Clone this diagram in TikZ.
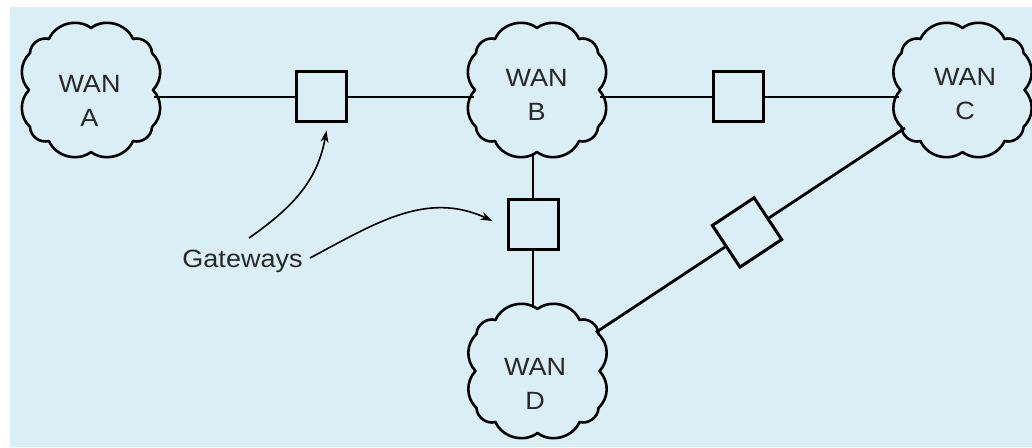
\documentclass[tikz,border=0pt]{standalone}
\usepackage{fontspec}
\newfontfamily\lblfont[FakeStretch=1.08]{Liberation Sans}
\usetikzlibrary{arrows.meta,calc}
\definecolor{bgblue}{RGB}{217,238,245}
\definecolor{txtgray}{RGB}{40,40,40}
\newcommand{\cloudoutline}[1]{%
  \draw[cloudline,shift={(#1.center)}]
    (0,62) to[bend left=52] (42,51) to[bend left=52] (61,37)
    to[bend left=45] (62,0) to[bend left=45] (61,-37)
    to[bend left=52] (42,-51) to[bend left=52] (0,-62)
    to[bend left=52] (-42,-51) to[bend left=52] (-61,-37)
    to[bend left=45] (-62,0) to[bend left=45] (-61,37)
    to[bend left=52] (-42,51) to[bend left=52] (0,62) -- cycle;}
\begin{document}
\begin{tikzpicture}[x=1pt,y=1pt,
  cloudline/.style={line width=2.6pt,line join=round},
  wan/.style={circle,minimum size=126pt,inner sep=0pt},
  wantext/.style={align=center,text=txtgray,font=\lblfont\fontsize{25}{34}\selectfont,inner sep=0pt},
  gw/.style={draw,line width=3pt,minimum size=50pt,inner sep=0pt},
  link/.style={line width=2.8pt},
  pointer/.style={line width=1.6pt,-{Stealth[length=12pt,width=8pt]}}]
\useasboundingbox (0,0) rectangle (1032,447);
\fill[bgblue] (10,0) rectangle (1032,440);
% clouds
\node[wan] (A) at (91,357) {};
\node[wan] (B) at (537,357) {};
\node[wan] (C) at (962.5,357) {};
\node[wan] (D) at (537.5,76) {};
\cloudoutline{A}
\cloudoutline{B}
\cloudoutline{C}
\cloudoutline{D}
\node[wantext] (At) at (89.5,346) {WAN\\A};
\node[wantext] (Bt) at (536.5,352) {WAN\\B};
\node[wantext] (Ct) at (965,352.5) {WAN\\C};
\node[wantext] (Dt) at (535,63.5) {WAN\\D};
% gateways
\node[gw] (g1) at (321.5,350) {};
\node[gw] (g2) at (738,350) {};
\node[gw] (g3) at (533,222) {};
\node[gw,rotate=33.5] (g4) at ($(D)!0.493!(C)$) {};
% links
\draw[link] (g1.west) -- (g1.west -| A.east);
\draw[link] (g1.east) -- (g1.east -| B.west);
\draw[link] (g2.west) -- (g2.west -| B.east);
\draw[link] (g2.east) -- (g2.east -| C.west);
\draw[link] (g3.north) -- (g3.north |- B.south);
\draw[link] (g3.south) -- (g3.south |- D.north);
\draw[link] (g4) -- ($(C)!69pt!(g4)$);
\draw[link] (g4) -- ($(D)!70pt!(g4)$);
% label and pointers
\node[text=txtgray,font=\lblfont\fontsize{25}{30}\selectfont,inner sep=0pt,anchor=base] (lbl) at (242.5,179) {Gateways};
\coordinate (p1) at (249,209);
\coordinate (p2) at (310,189);
\draw[pointer] (p1) to[out=35,in=-100] ($(g1.south)+(5,-7)$);
\draw[pointer] (p2) to[out=28,in=155] ($(g3.west)+(-14,4)$);
\end{tikzpicture}
\end{document}
